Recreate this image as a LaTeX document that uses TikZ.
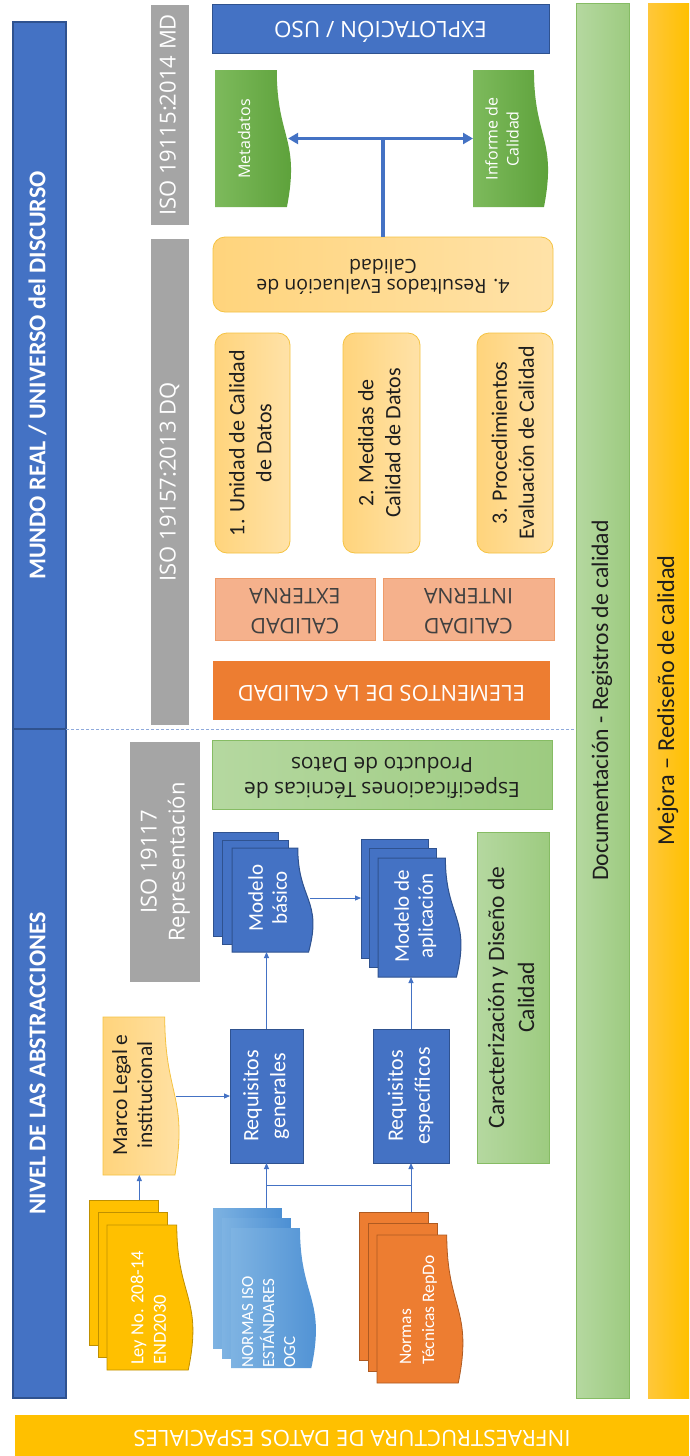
\documentclass[tikz,border=0pt]{standalone}
\usepackage{fontspec}
\usepackage{graphicx}
\setmainfont{Carlito}
\newfontfamily\osans{Open Sans}
\usetikzlibrary{fit,arrows.meta,calc}

\definecolor{cblue}{HTML}{4472C4}
\definecolor{cblueD}{HTML}{2F528F}
\definecolor{cgray}{HTML}{A5A5A5}
\definecolor{corange}{HTML}{ED7D31}
\definecolor{corangeD}{HTML}{AE5A21}
\definecolor{cgold}{HTML}{FFC000}
\definecolor{cgoldD}{HTML}{BF9000}
\definecolor{cyelL}{HTML}{FFC73A}
\definecolor{cpaleL}{HTML}{FFD47C}
\definecolor{cpaleR}{HTML}{FFE2A8}
\definecolor{cpaleB}{HTML}{F5C342}
\definecolor{cgrnL}{HTML}{B5D8A0}
\definecolor{cgrnR}{HTML}{9DCB80}
\definecolor{cgrnB}{HTML}{86BC64}
\definecolor{cmetL}{HTML}{7DBA5C}
\definecolor{cmetR}{HTML}{5A9F37}
\definecolor{cnormL}{HTML}{7EB3E2}
\definecolor{cnormR}{HTML}{4C8FD3}
\definecolor{csalmon}{HTML}{F5B18C}
\definecolor{csalmonB}{HTML}{EE9C6A}
\definecolor{csep}{HTML}{8FAADC}
\definecolor{ctext}{HTML}{1E1E1E}

% text turned to read upwards / upside down
\newcommand\rt[1]{\rotatebox{90}{\begin{tabular}{@{}c@{}}#1\end{tabular}}}
\newcommand\rtl[1]{\rotatebox{90}{\begin{tabular}{@{}l@{}}#1\end{tabular}}}
\newcommand\ud[1]{\rotatebox{180}{\begin{tabular}{@{}c@{}}#1\end{tabular}}}

% document sheet with a wavy right edge: style, left, top, bottom, depth
\newcommand\docshape[5]{%
  \path[#1] (#2,#3) -- ({#2+0.802*#5},#3)
    .. controls ({#2+0.802*#5},{(#3+#4)/2}) and ({#2+1.108*#5},{(#3+#4)/2}) .. ({#2+0.934*#5},#4)
    -- (#2,#4) -- cycle;}
% single document: name, style, left, top, bottom, depth
\newcommand\docone[6]{%
  \docshape{#2}{#3}{#4}{#5}{#6}
  \node[fit={(#3,#4) ({#3+0.95*#6},#5)}] (#1) {};}
% stack of three documents: name, style, left, top, bottom, depth, dx, dy
\newcommand\docstack[8]{%
  \path[#2] ({#3-2*#7},{#4-2*#8}) rectangle ({#3+0.802*#6-2*#7},{#5-2*#8});
  \path[#2] ({#3-#7},{#4-#8}) rectangle ({#3+0.802*#6-#7},{#5-#8});
  \docshape{#2}{#3}{#4}{#5}{#6}
  \node[fit={({#3-2*#7},{#4-2*#8}) ({#3+0.95*#6},#5)}] (#1) {};}

\begin{document}
\begin{tikzpicture}[x=1pt,y=-1pt,
  every node/.style={inner sep=0pt,outer sep=0pt},
  area/.style n args={4}{minimum width={#3-#1},minimum height={#4-#2},
    at={({(#1+#3)/2},{(#2+#4)/2})}},
  sidebar/.style={fill=cblue,draw=cblueD,line width=1.2pt,text=white,
    font=\bfseries\fontsize{24}{29}\selectfont},
  isobox/.style={fill=cgray,text=white,font=\osans\fontsize{22}{28}\selectfont},
  bluebox/.style={fill=cblue,draw=cblueD,line width=1pt,text=white,
    font=\fontsize{22}{27}\selectfont},
  goldbox/.style={left color=cpaleL,right color=cpaleR,draw=cpaleB,line width=0.8pt,
    rounded corners=12pt,text=ctext,font=\fontsize{22}{27}\selectfont},
  greenbox/.style={left color=cgrnL,right color=cgrnR,draw=cgrnB,line width=0.8pt,text=ctext},
  salmonbox/.style={fill=csalmon,draw=csalmonB,line width=0.8pt,text=ctext!85,
    font=\osans\fontsize{21.5}{30}\selectfont},
  greendoc/.style={left color=cmetL,right color=cmetR},
  golddoc/.style={left color=cpaleL,right color=cpaleR,draw=cpaleB,line width=0.8pt},
  leydoc/.style={fill=cgold,draw=cgoldD,line width=0.8pt},
  normdoc/.style={left color=cnormL,right color=cnormR},
  tecdoc/.style={fill=corange,draw=corangeD,line width=0.8pt},
  bluedoc/.style={fill=cblue,draw=cblueD,line width=1pt},
  link/.style={draw=cblue,line width=0.9pt,-{Triangle[length=6pt,width=5pt]}},
  wire/.style={draw=cblue,line width=0.9pt},
  bold link/.style={draw=cblue,line width=3.2pt},
  sep/.style={draw=csep,line width=0.9pt,dash pattern=on 3pt off 2pt}]

\path[fill=white] (0,0) rectangle (689,1456);
\useasboundingbox (0,0) rectangle (689,1456);

% left banner
\node[sidebar,area={13}{22}{66}{729}] (mundo) {\rt{MUNDO REAL / UNIVERSO del DISCURSO}};
\node[sidebar,area={13}{729}{66}{1398}] (nivel) {\rt{NIVEL DE LAS ABSTRACCIONES}};

% standards
\node[isobox,area={151}{5}{189}{225}] (iso115) {\rt{ISO 19115:2014 MD}};
\node[isobox,area={151}{239}{189}{725}] (iso157) {\rt{ISO 19157:2013 DQ}};
\node[isobox,area={130}{742}{200}{982}] (iso117) {\rt{ISO 19117\\Representación}};

% use and quality results
\node[bluebox,font=\osans\fontsize{22.5}{26}\selectfont,area={212}{4}{549}{53}] (explo) {\ud{EXPLOTACIÓN / USO}};
\docone{meta}{greendoc}{215}{70}{207}{77}
\node[text=white,font=\osans\fontsize{16}{21}\selectfont] (meta-t) at (246,139) {\rt{Metadatos}};
\docone{inf}{greendoc}{473}{70}{207}{76}
\node[text=white,font=\osans\fontsize{16}{21}\selectfont] (inf-t) at (504,139) {\rt{Informe de\\Calidad}};

\node[goldbox,font=\osans\fontsize{19.5}{18}\selectfont,area={213}{237}{553}{312}] (res) {\ud{4. Resultados Evaluación de\\Calidad}};
\node[goldbox,area={215}{333}{290}{553}] (q1) {\rt{1. Unidad de Calidad\\de Datos}};
\node[goldbox,area={343}{333}{420}{553}] (q2) {\rt{2. Medidas de\\Calidad de Datos}};
\node[goldbox,area={477}{333}{553}{553}] (q3) {\rt{3. Procedimientos\\Evaluación de Calidad}};

\node[salmonbox,area={215}{578}{375}{640}] (cext) {\ud{CALIDAD\\EXTERNA}};
\node[salmonbox,area={383}{578}{554}{640}] (cint) {\ud{CALIDAD\\INTERNA}};
\node[fill=corange,text=white,font=\osans\fontsize{22}{26}\selectfont,area={213}{661}{550}{720}] (elem) {\ud{ELEMENTOS DE LA CALIDAD}};

\node[greenbox,font=\osans\fontsize{21}{25}\selectfont,area={212}{740}{552}{809}] (espec) {\ud{Especificaciones Técnicas de\\Producto de Datos}};

% long bands
\node[greenbox,font=\fontsize{23.7}{28}\selectfont,area={576}{3}{629}{1398}] (docu) {\rt{Documentación - Registros de calidad}};
\node[left color=cyelL,right color=cgold,text=ctext,font=\fontsize{24.3}{28}\selectfont,area={648}{3}{689}{1398}] (mejora) {\rt{Mejora – Rediseño de calidad}};
\node[fill=cgold,text=white,font=\osans\fontsize{22.3}{26}\selectfont,area={15}{1415}{689}{1456}] (ide) {\ud{INFRAESTRUCTURA DE DATOS ESPACIALES}};

% abstraction level
\docone{marco}{golddoc}{103}{1017}{1175}{77}
\node[text=ctext,font=\fontsize{21.5}{25}\selectfont] (marco-t) at (134.5,1095) {\rt{Marco Legal e\\institucional}};
\docstack{ley}{leydoc}{107}{1225}{1370}{87}{9}{12.5}
\node[text=white,font=\fontsize{18.5}{22.5}\selectfont] (ley-t) at (150,1308) {\rtl{Ley No. 208-14\\END2030}};
\docstack{normas}{normdoc}{231}{1228}{1368}{86}{9}{10}
\node[text=white,font=\fontsize{17}{21}\selectfont] (normas-t) at (270,1322) {\rtl{NORMAS ISO\\ESTÁNDARES\\OGC}};
\docstack{ntec}{tecdoc}{377}{1235}{1383}{87}{9}{11.5}
\node[text=white,font=\fontsize{17.5}{23}\selectfont] (ntec-t) at (418,1310) {\rtl{Normas\\Técnicas RepDo}};

\node[bluebox,area={230}{1029}{303}{1163}] (reqgen) {\rt{Requisitos\\generales}};
\node[bluebox,area={373}{1029}{449}{1163}] (reqesp) {\rt{Requisitos\\específicos}};
\docstack{modbas}{bluedoc}{232}{848}{952}{82}{9.5}{8}
\node[text=white,font=\fontsize{21}{24}\selectfont] (modbas-t) at (270,898) {\rt{Modelo\\básico}};
\docstack{modapl}{bluedoc}{378}{858}{977}{84}{8.5}{9.5}
\node[text=white,font=\fontsize{21}{24}\selectfont] (modapl-t) at (416,916) {\rt{Modelo de\\aplicación}};
\node[greenbox,font=\fontsize{23.5}{30}\selectfont,area={477}{832}{549}{1163}] (carac) {\rt{Caracterización y Diseño de\\Calidad}};

% separator between the two levels
\draw[sep] (mundo.south east) -- (mundo.south east -| docu.west);

% connectors
\coordinate (hub) at (res.north |- meta.east);
\draw[bold link] (res.north) -- (hub);
\draw[bold link,{Triangle[length=10pt,width=11pt]}-{Triangle[length=10pt,width=11pt]}] (meta.east) -- (inf.west);

\draw[link] (ley.north) -- (ley.north |- marco.south);
\draw[link] (marco.east) -- (marco.east -| reqgen.west);
\draw[link] (reqgen.south |- normas.north) -- (reqgen.south);
\draw[link] (reqesp.south |- ntec.north) -- (reqesp.south);
\coordinate (join) at ($(reqgen.south)!0.5!(reqgen.south |- normas.north)$);
\draw[wire] (join) -- (join -| reqesp.south);
\draw[link] (reqgen.north) -- (reqgen.north |- modbas.south);
\draw[link] (reqesp.north) -- (reqesp.north |- modapl.south);
\coordinate (mb) at ($(modbas.east)+(0,6)$);
\draw[link] (mb) -- (mb -| modapl.west);
\end{tikzpicture}
\end{document}
